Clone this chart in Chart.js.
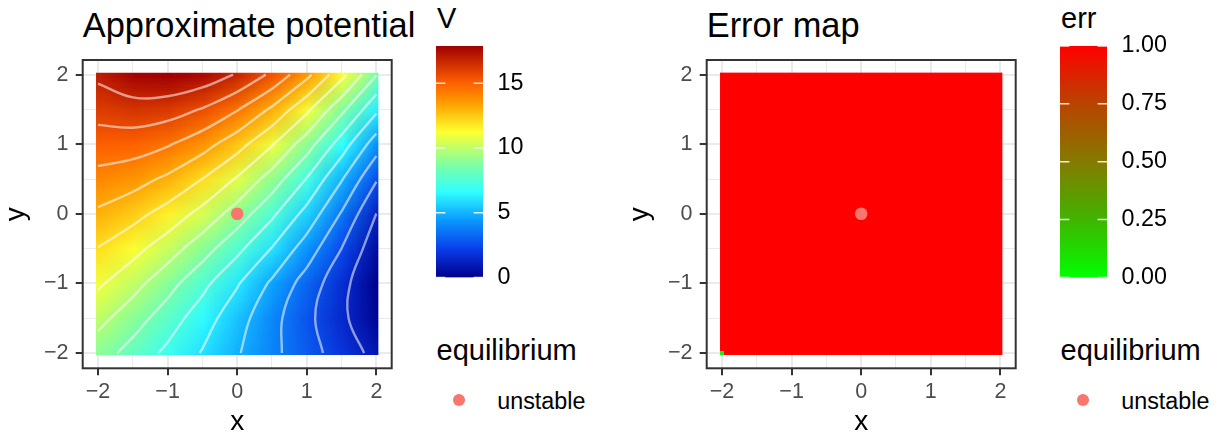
<html>
<head>
<meta charset="utf-8">
<title>Approximate potential / Error map</title>
<script src="https://cdn.jsdelivr.net/npm/chart.js"></script>
<style>
  body { margin: 0; background: #fff; font-family: "Liberation Sans", Arial, sans-serif; }
  #page { position: relative; width: 1217px; height: 438px; overflow: hidden; }
  #page canvas, #page .txt, #page .dot { position: absolute; }
  .txt { white-space: nowrap; color: #000; }
  .title { font-size: 34.4px; line-height: 34px; top: 8px; }
  .ltitle { font-size: 29px; line-height: 29px; }
  .ltext { font-size: 23.3px; line-height: 23.3px; top: 389.6px; }
  .dot { width: 12.4px; height: 12.4px; border-radius: 50%; background: #F8766D; top: 393.8px; }
</style>
</head>
<body>
<div id="page">
  <div class="txt title" style="left:82.7px">Approximate potential</div>
  <canvas id="potChart" width="400" height="438" style="left:0;top:0"></canvas>
  <div class="txt ltitle" style="left:437px;top:3.8px">V</div>
  <canvas id="potBar" width="113" height="306" style="left:430px;top:0"></canvas>
  <div class="txt ltitle" style="left:436.5px;top:335.5px">equilibrium</div>
  <div class="dot" style="left:453.1px"></div>
  <div class="txt ltext" style="left:497.3px">unstable</div>

  <div class="txt title" style="left:706.7px">Error map</div>
  <canvas id="errChart" width="400" height="438" style="left:624px;top:0"></canvas>
  <div class="txt ltitle" style="left:1061px;top:3.8px">err</div>
  <canvas id="errBar" width="113" height="306" style="left:1054px;top:0"></canvas>
  <div class="txt ltitle" style="left:1060.5px;top:335.5px">equilibrium</div>
  <div class="dot" style="left:1077.1px"></div>
  <div class="txt ltext" style="left:1121.3px">unstable</div>
</div>
<script>
// ---- data ----
const gridX = [-2, -1.5, -1, -0.5, 0, 0.5, 1, 1.5, 2];
const gridY = [-2, -1.5, -1, -0.5, 0, 0.5, 1, 1.5, 2];
// approximate potential V, one row per gridY value (bottom to top), columns follow gridX
const potV = [
  [8.96, 7.95, 6.93, 5.92, 4.90, 3.89, 2.87, 1.86, 0.84],
  [9.97, 8.94, 7.80, 6.56, 5.28, 3.98, 2.70, 1.45, 0.20],
  [10.99, 10.02, 8.85, 7.54, 6.11, 4.60, 3.09, 1.60, 0.00],
  [11.96, 11.19, 10.16, 8.92, 7.51, 5.94, 4.22, 2.39, 0.45],
  [13.01, 12.40, 11.54, 10.42, 9.05, 7.44, 5.59, 3.50, 1.19],
  [14.02, 13.66, 12.98, 11.99, 10.68, 9.06, 7.14, 4.89, 2.50],
  [15.04, 14.96, 14.51, 13.68, 12.48, 10.90, 8.95, 6.62, 4.15],
  [16.05, 16.31, 16.14, 15.53, 14.48, 13.00, 11.07, 8.71, 6.25],
  [17.06, 17.72, 17.88, 17.54, 16.70, 15.36, 13.52, 11.18, 8.45]
];
const contourLevels = [1.2, 2.4, 3.6, 4.8, 6.0, 7.2, 8.4, 9.6, 10.8, 12.0, 13.2, 14.4, 15.6, 16.8];

// error map: err is 1 on the whole grid except the listed cells
const rasterStep = 4 / 70;
const errAll = 1;
const errLowX = [-2];
const errLowY = [-2];
const errLowVal = [0];

const eqX = [0];
const eqY = [0];
const eqLabel = ['unstable'];

const axisTicks = [-2, -1.5, -1, -0.5, 0, 0.5, 1, 1.5, 2];
const vTicks = [0, 5, 10, 15];
const errTicks = [0, 0.25, 0.5, 0.75, 1];

// ---- styles ----
const potPalette = [
  [0.00, '#00008C'], [0.12, '#0A3CE8'], [0.25, '#0A9BFF'], [0.37, '#30FFFF'],
  [0.49, '#80FFA0'], [0.63, '#FFFF30'], [0.75, '#FFA000'], [0.84, '#FF6000'],
  [0.92, '#D03000'], [1.00, '#A00000']
];
const errPalette = [[0, '#00FF00'], [0.25, '#40B400'], [0.5, '#857A00'], [0.75, '#B84400'], [1, '#FF0000']];

Chart.defaults.font.family = '"Liberation Sans", Arial, sans-serif';

function hexRgb(h) { return [1, 3, 5].map(i => parseInt(h.slice(i, i + 2), 16)); }
function rampRgb(stops, t) {
  t = Math.min(1, Math.max(0, t));
  for (let k = 1; k < stops.length; k++) {
    if (t <= stops[k][0]) {
      const a = hexRgb(stops[k - 1][1]), b = hexRgb(stops[k][1]);
      const f = (t - stops[k - 1][0]) / (stops[k][0] - stops[k - 1][0]);
      return a.map((v, i) => Math.round(v + f * (b[i] - v)));
    }
  }
  return hexRgb(stops[stops.length - 1][1]);
}
const rgbStr = c => 'rgb(' + c.join(',') + ')';

const flatV = potV.flat();
const vMin = Math.min(...flatV), vMax = Math.max(...flatV);
const nx = gridX.length, ny = gridY.length;

// small image of the V grid, stretched with smoothing onto the panel
const potImg = document.createElement('canvas');
potImg.width = nx; potImg.height = ny;
(function () {
  const ic = potImg.getContext('2d');
  const id = ic.createImageData(nx, ny);
  for (let r = 0; r < ny; r++) {
    const row = potV[ny - 1 - r];
    for (let i = 0; i < nx; i++) {
      const c = rampRgb(potPalette, (row[i] - vMin) / (vMax - vMin));
      const o = (r * nx + i) * 4;
      id.data[o] = c[0]; id.data[o + 1] = c[1]; id.data[o + 2] = c[2]; id.data[o + 3] = 255;
    }
  }
  ic.putImageData(id, 0, 0);
})();

// marching squares over the grid, chained into paths
function contourPaths(level) {
  const pts = {}, links = {};
  const edge = (key, x0, y0, v0, x1, y1, v1) => {
    if (!(key in pts)) {
      const f = (level - v0) / (v1 - v0);
      pts[key] = {x: x0 + f * (x1 - x0), y: y0 + f * (y1 - y0)};
    }
    return key;
  };
  const link = (a, b) => {
    (links[a] = links[a] || []).push(b);
    (links[b] = links[b] || []).push(a);
  };
  for (let j = 0; j < ny - 1; j++) {
    for (let i = 0; i < nx - 1; i++) {
      const v00 = potV[j][i], v10 = potV[j][i + 1], v01 = potV[j + 1][i], v11 = potV[j + 1][i + 1];
      const x0 = gridX[i], x1 = gridX[i + 1], y0 = gridY[j], y1 = gridY[j + 1];
      const hits = [];
      if ((v00 < level) !== (v10 < level)) hits.push(edge('h' + i + '_' + j, x0, y0, v00, x1, y0, v10));
      if ((v10 < level) !== (v11 < level)) hits.push(edge('v' + (i + 1) + '_' + j, x1, y0, v10, x1, y1, v11));
      if ((v01 < level) !== (v11 < level)) hits.push(edge('h' + i + '_' + (j + 1), x0, y1, v01, x1, y1, v11));
      if ((v00 < level) !== (v01 < level)) hits.push(edge('v' + i + '_' + j, x0, y0, v00, x0, y1, v01));
      if (hits.length === 2) link(hits[0], hits[1]);
      else if (hits.length === 4) {
        const c = (v00 + v10 + v01 + v11) / 4;
        if ((c < level) === (v00 < level)) { link(hits[0], hits[1]); link(hits[2], hits[3]); }
        else { link(hits[0], hits[3]); link(hits[1], hits[2]); }
      }
    }
  }
  const used = new Set(), paths = [];
  const walk = start => {
    const p = [start]; used.add(start);
    let cur = start;
    for (;;) {
      const nxt = links[cur].find(k => !used.has(k));
      if (!nxt) break;
      used.add(nxt); p.push(nxt); cur = nxt;
    }
    return p;
  };
  const keys = Object.keys(links);
  keys.filter(k => links[k].length === 1).forEach(k => { if (!used.has(k)) paths.push(walk(k)); });
  keys.forEach(k => { if (!used.has(k)) { const p = walk(k); p.push(k); paths.push(p); } });
  return paths.map(p => p.map(k => pts[k]));
}

// ---- plugins ----
const panelBorder = {
  id: 'panelBorder',
  afterDatasetsDraw(chart) {
    const {ctx, chartArea: a} = chart;
    ctx.save();
    ctx.strokeStyle = '#333333';
    ctx.lineWidth = 2;
    ctx.strokeRect(a.left, a.top, a.right - a.left, a.bottom - a.top);
    ctx.restore();
  }
};

const potRaster = {
  id: 'potRaster',
  beforeDatasetsDraw(chart) {
    const {ctx, scales: {x, y}} = chart;
    const dx = (gridX[1] - gridX[0]) / 2, dy = (gridY[1] - gridY[0]) / 2, h = rasterStep / 2;
    const l = x.getPixelForValue(gridX[0] - dx), r = x.getPixelForValue(gridX[nx - 1] + dx);
    const t = y.getPixelForValue(gridY[ny - 1] + dy), b = y.getPixelForValue(gridY[0] - dy);
    const cl = x.getPixelForValue(gridX[0] - h), cr = x.getPixelForValue(gridX[nx - 1] + h);
    const ct = y.getPixelForValue(gridY[ny - 1] + h), cb = y.getPixelForValue(gridY[0] - h);
    ctx.save();
    ctx.beginPath();
    ctx.rect(cl, ct, cr - cl, cb - ct);
    ctx.clip();
    ctx.imageSmoothingEnabled = true;
    ctx.drawImage(potImg, l, t, r - l, b - t);
    ctx.restore();
  }
};

const errRaster = {
  id: 'errRaster',
  beforeDatasetsDraw(chart) {
    const {ctx, scales: {x, y}} = chart;
    const h = rasterStep / 2;
    const cell = (x0, x1, y0, y1, v) => {
      const l = x.getPixelForValue(x0), r = x.getPixelForValue(x1);
      const t = y.getPixelForValue(y1), b = y.getPixelForValue(y0);
      ctx.fillStyle = rgbStr(rampRgb(errPalette, v));
      ctx.fillRect(l, t, r - l, b - t);
    };
    ctx.save();
    cell(gridX[0] - h, gridX[nx - 1] + h, gridY[0] - h, gridY[ny - 1] + h, errAll);
    errLowX.forEach((vx, i) => cell(vx - h, vx + h, errLowY[i] - h, errLowY[i] + h, errLowVal[i]));
    ctx.restore();
  }
};

const barTicks = {
  id: 'barTicks',
  afterDatasetsDraw(chart) {
    const {ctx, chartArea: a, scales: {y}} = chart;
    const len = (a.right - a.left) / 5;
    ctx.save();
    ctx.strokeStyle = 'rgba(255,255,255,0.85)';
    ctx.lineWidth = 1.5;
    y.ticks.forEach(t => {
      const p = y.getPixelForValue(t.value);
      ctx.beginPath();
      ctx.moveTo(a.left, p); ctx.lineTo(a.left + len, p);
      ctx.moveTo(a.right - len, p); ctx.lineTo(a.right, p);
      ctx.stroke();
    });
    ctx.restore();
  }
};

// ---- chart builders ----
const isMajor = v => Number.isInteger(v);

function axisOpts(name) {
  const horiz = name === 'x';
  return {
    type: 'linear',
    min: -2.22,
    max: horiz ? 2.22 : 2.21,
    afterBuildTicks: s => { s.ticks = axisTicks.map(v => ({value: v})); },
    afterFit: s => { if (horiz) s.height = 69.7; else s.width = 82.7; },
    grid: {
      color: '#EBEBEB',
      lineWidth: c => (c.tick && isMajor(c.tick.value)) ? 2 : 1,
      tickColor: c => (c.tick && isMajor(c.tick.value)) ? '#333333' : 'rgba(0,0,0,0)',
      tickWidth: 2,
      tickLength: 7
    },
    border: {display: false},
    ticks: {
      autoSkip: false, maxRotation: 0,
      padding: horiz ? 3.8 : 7.2,
      color: '#4D4D4D',
      font: {size: 21.5},
      callback: v => isMajor(v) ? String(v).replace('-', '\u2212') : ''
    },
    title: {
      display: true, text: name, color: '#000',
      font: {size: 28, lineHeight: 1},
      padding: horiz ? {top: 0, bottom: 1.7} : {top: 2.5, bottom: 0}
    }
  };
}

function panelChart(id, datasets, raster) {
  return new Chart(document.getElementById(id), {
    type: 'scatter',
    data: {datasets: datasets},
    options: {
      responsive: false, animation: false, events: [],
      layout: {padding: {top: 60, right: 8.3, left: 0, bottom: 0}},
      plugins: {legend: {display: false}, tooltip: {enabled: false}},
      scales: {x: axisOpts('x'), y: axisOpts('y')}
    },
    plugins: [raster, panelBorder]
  });
}

const eqDataset = {
  label: 'equilibrium',
  data: eqX.map((x, i) => ({x: x, y: eqY[i], kind: eqLabel[i]})),
  pointRadius: 6.3,
  pointBackgroundColor: '#F8766D',
  pointBorderWidth: 0,
  order: 0
};

const contourSets = [];
contourLevels.forEach(lv => {
  contourPaths(lv).forEach(p => contourSets.push({
    label: 'V = ' + lv,
    data: p,
    showLine: true,
    pointRadius: 0,
    borderColor: 'rgba(255,255,255,0.55)',
    borderWidth: 2.4,
    tension: 0.4,
    order: 1
  }));
});

panelChart('potChart', [eqDataset].concat(contourSets), potRaster);
panelChart('errChart', [Object.assign({}, eqDataset)], errRaster);

function colorBar(id, lo, hi, ticks, stops, fmt) {
  return new Chart(document.getElementById(id), {
    type: 'bar',
    data: {
      labels: [''],
      datasets: [{
        data: [[lo, hi]],
        borderWidth: 0,
        barPercentage: 1,
        categoryPercentage: 1,
        backgroundColor: c => {
          const ch = c.chart;
          if (!ch.chartArea) return 'transparent';
          const y = ch.scales.y;
          const g = ch.ctx.createLinearGradient(0, y.getPixelForValue(lo), 0, y.getPixelForValue(hi));
          stops.forEach(s => g.addColorStop(s[0], s[1]));
          return g;
        }
      }]
    },
    options: {
      responsive: false, animation: false, events: [],
      layout: {padding: {left: 6, top: 46, bottom: 14, right: 0}},
      plugins: {legend: {display: false}, tooltip: {enabled: false}},
      scales: {
        x: {display: false},
        y: {
          position: 'right', min: lo, max: hi,
          grid: {display: false, drawTicks: false},
          border: {display: false},
          afterBuildTicks: s => { s.ticks = ticks.map(v => ({value: v})); },
          afterFit: s => { s.width = 60; },
          ticks: {padding: 14.6, color: '#000', font: {size: 23.3}, callback: fmt}
        }
      }
    },
    plugins: [barTicks]
  });
}

colorBar('potBar', vMin, vMax, vTicks, potPalette, v => String(v));
colorBar('errBar', 0, 1, errTicks, errPalette, v => v.toFixed(2));
</script>
</body>
</html>
